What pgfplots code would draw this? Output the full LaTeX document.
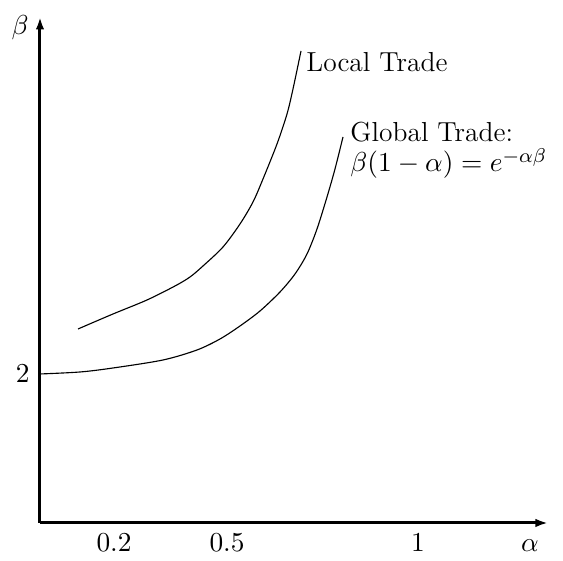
\documentclass[border=0pt]{standalone}
\usepackage{pgfplots}
\pgfplotsset{compat=1.18}
\usetikzlibrary{arrows.meta}

% Local and global trade thresholds (schematic units)
\pgfplotstableread{
x   y
78  225
113 240
147 254
175 268
190 277
203 288
223 307
240 330
253 352
263 375
277 410
287 440
293 465
301 503
}\localtrade

\pgfplotstableread{
x   y
40  180
80  182
113 186
163 194
197 204
220 215
240 228
260 243
280 262
295 280
307 300
317 325
327 357
335 385
343 417
}\globaltrade

\begin{document}
\begin{tikzpicture}[every node/.append style={font=\fontsize{11}{13}\selectfont}]
\begin{axis}[
  x=0.4pt, y=0.4pt,
  xmin=40, xmax=548, ymin=31, ymax=537,
  axis lines=left,
  axis line style={line width=1.2pt, -{Latex[length=5pt,width=3.4pt]}},
  clip=false,
  major tick length=0pt,
  xtick={114,227,418},
  xticklabels={$0.2$,$0.5$,$1$},
  ytick={180},
  yticklabels={$2$},
  xticklabel style={yshift=-0.8pt},
  yticklabel style={xshift=-0.6pt},
]
\path (axis cs:0,0) rectangle (axis cs:563,554);
\addplot[black, line width=0.45pt, smooth] table[x=x,y=y] {\localtrade};
\addplot[black, line width=0.45pt, smooth] table[x=x,y=y] {\globaltrade};
\node[anchor=center] at (axis cs:20,526) {$\beta$};
\node[anchor=base] at (axis cs:530,2) {$\alpha$};
\node[anchor=base west, inner sep=0pt] at (axis cs:306,482) {Local Trade};
\node[anchor=base west, inner sep=0pt] at (axis cs:350,412) {Global Trade:};
\node[anchor=base west, inner sep=0pt] at (axis cs:350,382) {$\beta(1-\alpha)=e^{-\alpha\beta}$};
\end{axis}
\end{tikzpicture}
\end{document}
